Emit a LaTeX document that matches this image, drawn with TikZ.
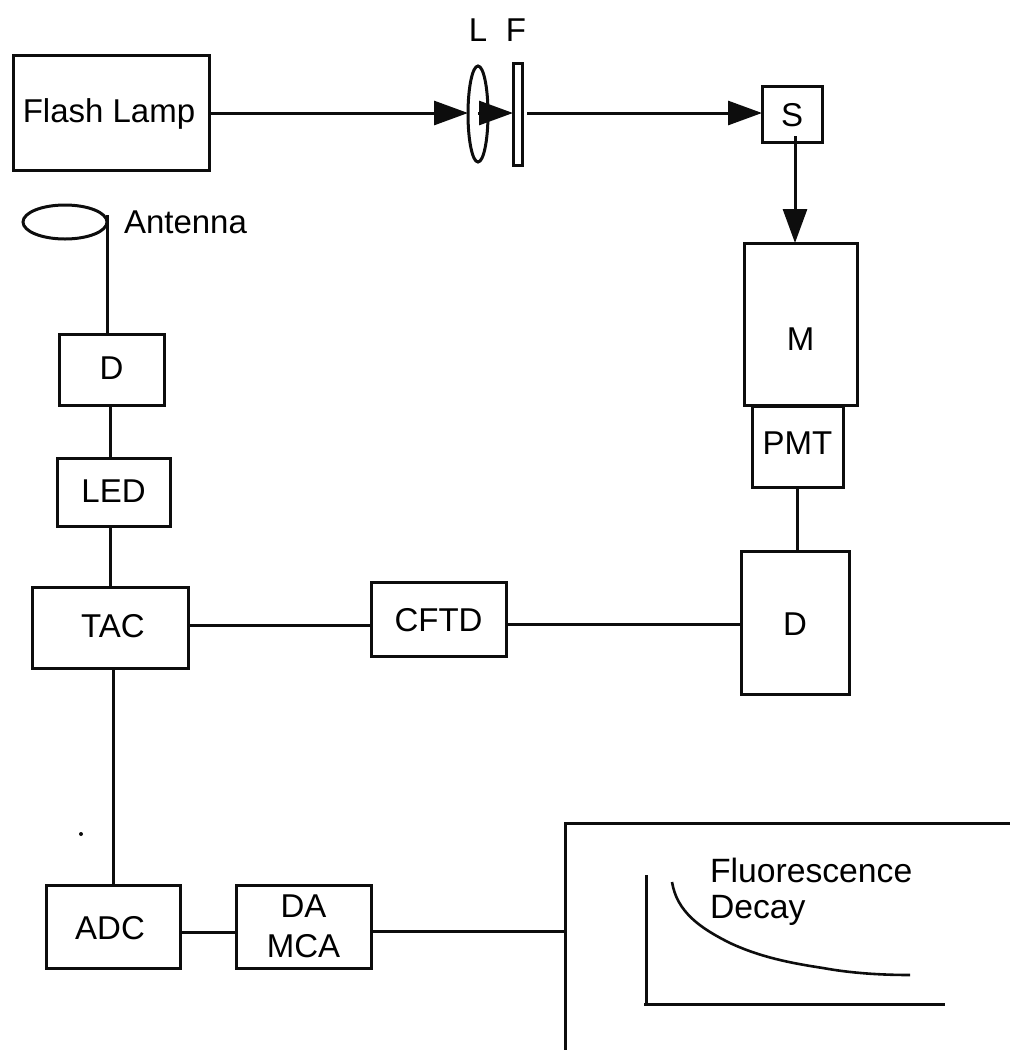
\documentclass[tikz,border=0pt]{standalone}
\usepackage{fontspec}
\setmainfont{Liberation Sans}
\usetikzlibrary{arrows.meta,shapes.geometric,calc}
\tikzset{
  x=1pt,y=-1pt,
  wire/.style={line width=3pt,black!95},
  flow/.style={wire,-{Triangle[length=34pt,width=24pt]}},
  blockbox/.style={draw=black!95,line width=3pt,rectangle,inner sep=0pt,outer sep=0pt,align=center,font=\fontsize{33}{40}\selectfont},
  lbl/.style={inner sep=0pt,outer sep=0pt,align=left,font=\fontsize{33}{36}\selectfont},
}
\newcommand{\blk}[6]{\node[blockbox,minimum width=#4pt-#3pt,minimum height=#6pt-#5pt] (#1) at ({(#3+#4)/2},{(#5+#6)/2}) {#2};}
% text placed off-centre inside its box by an invisible strut: height #1, depth #2
\newcommand{\tl}[3]{\rule[-#2pt]{0pt}{\dimexpr#1pt+#2pt\relax}#3}
\begin{document}
\begin{tikzpicture}
\useasboundingbox (0,0) rectangle (1010,1050);
\blk{lamp}{\tl{27}{0}{Flash Lamp}\hspace*{4pt}}{13}{209}{55}{170}
\blk{S}{\tl{26}{0}{S}}{762}{822}{86}{142}
\blk{M}{\tl{52}{0}{M}}{744}{857}{243}{405}
\blk{PMT}{\tl{24}{9}{PMT}}{752}{843}{406}{487}
\blk{DR}{\tl{25}{0}{D}}{741}{849}{551}{694}
\blk{CFTD}{\tl{26}{0}{CFTD}}{371}{506}{582}{656}
\blk{TAC}{\hspace*{6pt}\tl{24}{5}{TAC}}{32}{188}{587}{668}
\blk{LED}{\tl{24}{4}{LED}}{57}{170}{458}{526}
\blk{DL}{\tl{24}{5}{D}}{59}{164}{334}{405}
\blk{ADC}{\tl{27}{0}{ADC}\hspace*{6pt}}{46}{180}{885}{968}
\blk{DA}{DA\\MCA}{236}{371}{885}{968}
\node[draw=black!95,line width=3pt,ellipse,minimum width=20pt,minimum height=96pt,inner sep=0pt,outer sep=0pt] (lens) at (478,114) {};
\node[draw=black!95,line width=3pt,rectangle,minimum width=9pt,minimum height=102pt,inner sep=0pt,outer sep=0pt] (filter) at (517.5,114) {};
\node[draw=black!95,line width=3pt,ellipse,minimum width=84pt,minimum height=34pt,inner sep=0pt,outer sep=0pt] (ant) at (65,222) {};
\node[lbl] (Ltxt) at (478,30) {L};
\node[lbl] (Ftxt) at (516,30) {F};
\node[lbl,anchor=west] (Atxt) at (124,222) {Antenna};
\node[lbl,anchor=north west,font=\fontsize{33.7}{36.5}\selectfont] (fd) at (710,858) {Fluorescence\\Decay};
% connectors
\draw[flow] (lamp.east|-0,113) -- (lens.west|-0,113);
\draw[flow] (lens.center|-0,113) -- (filter.west|-0,113);
\draw[flow,shorten <=5pt] (filter.east|-0,113) -- (S.west|-0,113);
\draw[flow] (795,136) -- (M.north-|795,0);
\draw[wire] (ant.east) ++(0,-7) coordinate (antTop) -- (antTop|-DL.north);
\draw[wire] (DL.south-|110,0) -- (LED.north-|110,0);
\draw[wire] (LED.south-|110,0) -- (TAC.north-|110,0);
\draw[wire] (TAC.south-|113,0) -- (ADC.north-|113,0);
\draw[wire] (TAC.east|-0,625) -- (CFTD.west|-0,625);
\draw[wire] (CFTD.east|-0,624) -- (DR.west|-0,624);
\draw[wire] (PMT.south-|797,0) -- (DR.north-|797,0);
\draw[wire] (ADC.east|-0,932) -- (DA.west|-0,932);
\coordinate (panelT) at (565,823);
\coordinate (panelB) at (565,1050);
\coordinate (panelR) at (1010,823);
\draw[wire] (DA.east|-0,931) -- (panelT|-0,931);
\draw[wire] (panelB) -- (panelT) -- (panelR);
% decay plot
\coordinate (axT) at (646,875);
\coordinate (axO) at (646,1004);
\coordinate (axR) at (945,1004);
\draw[wire] (axT) -- (axO);
\draw[wire] (644,1004) -- (axR);
\draw[line width=2.6pt,black!95] (672,882) .. controls (677,912) and (700,928) .. (730,943) .. controls (760,957) and (790,963) .. (823,968) .. controls (850,973) and (880,975) .. (910,975);
\fill[black!95] (81,834) circle (2);
\end{tikzpicture}
\end{document}
